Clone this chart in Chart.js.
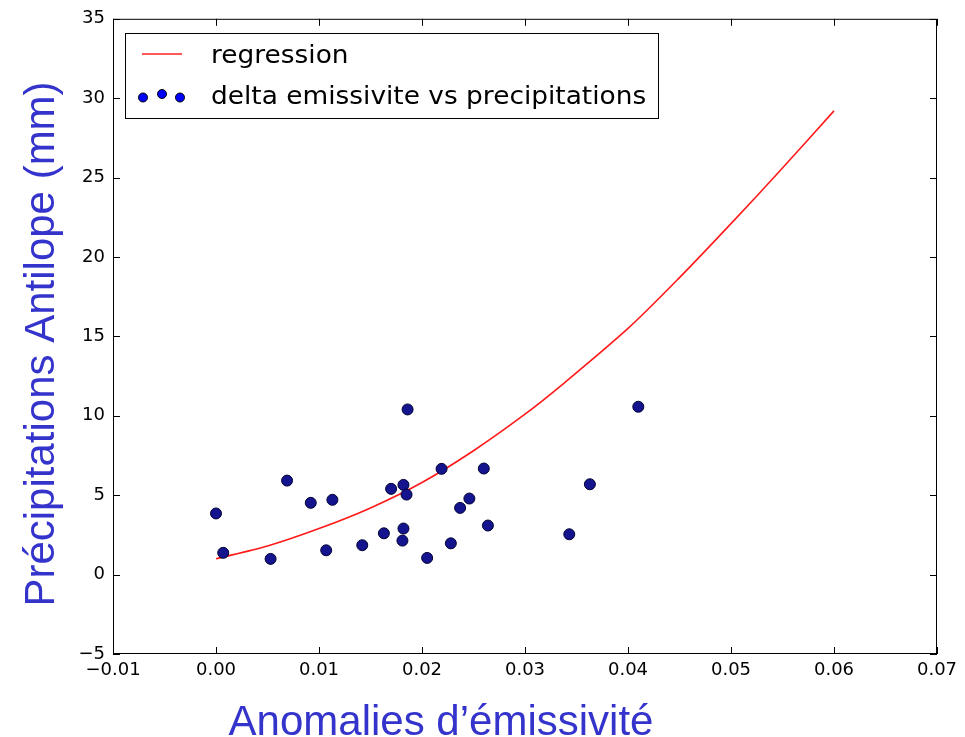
<!DOCTYPE html>
<html>
<head>
<meta charset="utf-8">
<script src="https://cdn.jsdelivr.net/npm/chart.js@4"></script>
<style>
  html, body { margin: 0; padding: 0; background: #fff; }
  #wrap { width: 965px; height: 737px; }
</style>
</head>
<body>
<div id="wrap"><canvas id="chart" width="965" height="737"></canvas></div>
<script>
// scatter: delta emissivite vs precipitations
const deltaEmis = [0.0000, 0.0007, 0.0053, 0.0069, 0.0092, 0.0113, 0.0107, 0.0142, 0.0163, 0.0170,
    0.0182, 0.0185, 0.0182, 0.0181, 0.0186, 0.0205, 0.0219, 0.0228, 0.0237, 0.0246,
    0.0260, 0.0264, 0.0410, 0.0363, 0.0343];
const precip = [3.85, 1.37, 0.99, 5.92, 4.52, 4.71, 1.53, 1.85, 2.60, 5.40,
    5.65, 5.04, 2.90, 2.14, 10.40, 1.05, 6.66, 1.97, 4.20, 4.79,
    6.68, 3.09, 10.57, 5.69, 2.54];

// regression curve
const regX = [0, 0.005, 0.01, 0.015, 0.02, 0.025, 0.03, 0.0335, 0.04, 0.045, 0.05, 0.055, 0.06];
const regY = [1.0, 1.8, 2.9, 4.2, 5.8, 7.8, 10.1, 11.9, 15.5, 18.7, 22.1, 25.6, 29.2];

const xTitle = 'Anomalies d\u2019émissivité';
const yTitle = 'Précipitations Antilope (mm)';

const minus = s => s.replace('-', '\u2212');

const frame = {
    id: 'frame',
    afterDatasetsDraw(chart) {
        const ctx = chart.ctx;
        const a = chart.chartArea;
        const xs = chart.scales.x, ys = chart.scales.y;
        ctx.save();
        ctx.strokeStyle = '#000';
        ctx.lineWidth = 1;
        ctx.strokeRect(a.left + 0.5, a.top + 0.5, a.right - a.left - 1, a.bottom - a.top - 1);
        const tl = 7;
        ctx.beginPath();
        xs.ticks.forEach(t => {
            const p = Math.round(xs.getPixelForValue(t.value)) + 0.5;
            ctx.moveTo(p, a.bottom); ctx.lineTo(p, a.bottom - tl);
            ctx.moveTo(p, a.top); ctx.lineTo(p, a.top + tl);
        });
        ys.ticks.forEach(t => {
            const p = Math.round(ys.getPixelForValue(t.value)) + 0.5;
            ctx.moveTo(a.left, p); ctx.lineTo(a.left + tl, p);
            ctx.moveTo(a.right, p); ctx.lineTo(a.right - tl, p);
        });
        ctx.stroke();

        // legend box
        const ds = chart.data.datasets;
        ctx.fillStyle = '#fff';
        ctx.fillRect(125, 33, 533, 85);
        ctx.strokeRect(125.5, 33.5, 533, 85);
        ctx.strokeStyle = '#ff2020';
        ctx.lineWidth = 1.5;
        ctx.beginPath();
        ctx.moveTo(142, 54); ctx.lineTo(182, 54);
        ctx.stroke();
        ctx.fillStyle = '#0000ff';
        ctx.strokeStyle = '#000';
        ctx.lineWidth = 1;
        [[143, 97.5], [162, 94], [180, 97.5]].forEach(([x, y]) => {
            ctx.beginPath();
            ctx.arc(x, y, 4.5, 0, Math.PI * 2);
            ctx.fill(); ctx.stroke();
        });
        ctx.fillStyle = '#000';
        ctx.font = '24px "DejaVu Sans"';
        ctx.textBaseline = 'alphabetic';
        [[ds[1].label, 63], [ds[0].label, 104]].forEach(([txt, y]) => {
            ctx.save();
            ctx.translate(211, y);
            ctx.scale(1.1, 1);
            ctx.fillText(txt, 0, 0);
            ctx.restore();
        });

        // axis titles
        ctx.fillStyle = '#3434cc';
        ctx.font = '42px "Liberation Sans"';
        ctx.textAlign = 'center';
        ctx.fillText(xTitle, 441, 735);
        ctx.translate(54, 344);
        ctx.rotate(-Math.PI / 2);
        ctx.fillText(yTitle, 0, 0);
        ctx.restore();
    }
};

const tickFont = { family: 'DejaVu Sans', size: 18 };

new Chart(document.getElementById('chart'), {
    type: 'scatter',
    data: {
        datasets: [{
            label: 'delta emissivite vs precipitations',
            data: deltaEmis.map((x, i) => ({ x: x, y: precip[i] })),
            backgroundColor: '#14148f',
            borderColor: '#000033',
            borderWidth: 1,
            pointRadius: 5.5,
            order: 0
        }, {
            type: 'line',
            label: 'regression',
            data: regX.map((x, i) => ({ x: x, y: regY[i] })),
            borderColor: '#ff1a1a',
            borderWidth: 1.6,
            pointRadius: 0,
            fill: false,
            tension: 0.3,
            order: 1
        }]
    },
    options: {
        responsive: false,
        animation: false,
        events: [],
        layout: { padding: { top: 18, right: 28, left: 0, bottom: 0 } },
        plugins: { legend: { display: false }, tooltip: { enabled: false } },
        scales: {
            x: {
                type: 'linear',
                min: -0.01, max: 0.07,
                grid: { display: false, drawTicks: false },
                border: { display: false },
                ticks: {
                    stepSize: 0.01, padding: 6, color: '#000', font: tickFont, maxRotation: 0,
                    callback: v => minus(v.toFixed(2))
                },
                afterFit: s => { s.height = 83; }
            },
            y: {
                min: -5, max: 35,
                grid: { display: false, drawTicks: false },
                border: { display: false },
                ticks: {
                    stepSize: 5, padding: 8, color: '#000', font: tickFont,
                    callback: v => minus(String(v))
                },
                afterFit: s => { s.width = 113; }
            }
        }
    },
    plugins: [frame]
});
</script>
</body>
</html>
